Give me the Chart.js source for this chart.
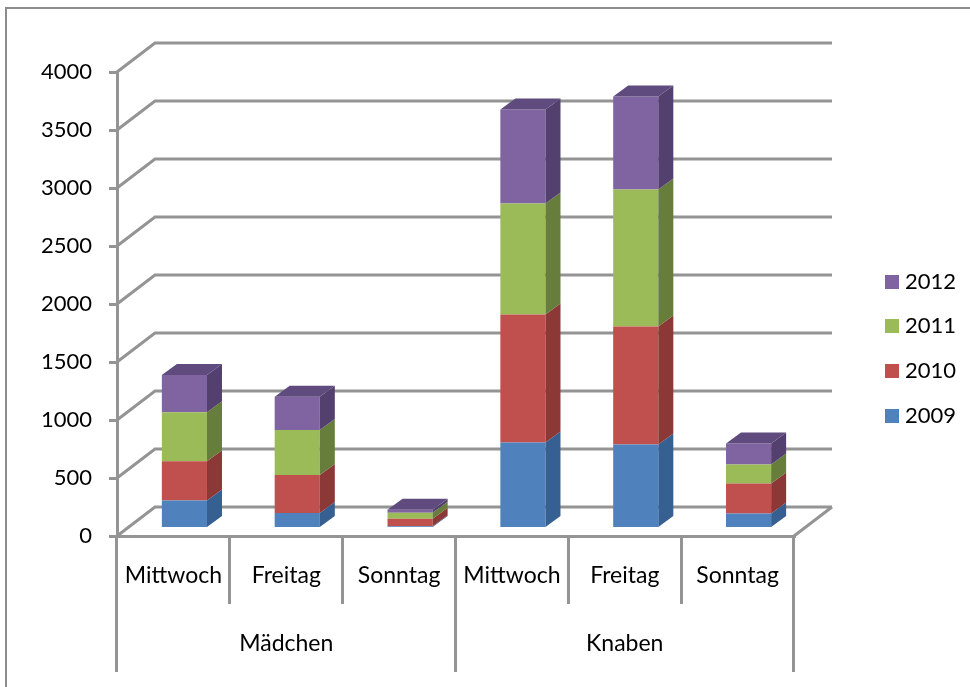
<!DOCTYPE html>
<html>
<head>
<meta charset="utf-8">
<title>Mädchen und Knaben</title>
<script src="https://cdn.jsdelivr.net/npm/chart.js@4"></script>
<style>
  html, body { margin: 0; background: #fff; }
  canvas { display: block; }
</style>
</head>
<body>
<canvas id="chart" width="970" height="687"></canvas>
<script>
const days = ["Mittwoch", "Freitag", "Sonntag", "Mittwoch", "Freitag", "Sonntag"];
const groups = ["Mädchen", "Knaben"];
const yearLabels = ["2009", "2010", "2011", "2012"];
const values2009 = [241, 133, 20, 741, 724, 129];
const values2010 = [339, 328, 64, 1103, 1017, 259];
const values2011 = [422, 388, 52, 957, 1181, 164];
const values2012 = [322, 287, 26, 810, 802, 181];
const yearValues = [values2009, values2010, values2011, values2012];
const frontColors = ["#4f81bd", "#c0504d", "#9bbb59", "#8064a2"];
const sideColors = ["#376092", "#8c3836", "#677d3b", "#54406f"];
const topColor = "#5f4b7d";

const lineGrey = "#949494";
const fontName = "Lato, Carlito, sans-serif";
const wordSize = 23;
const digitSize = 22;

// wall depth and bar depth of the fake 3D look
const wall = { dx: 38, dy: -29 };
const bar = { dx: 15, dy: -11, shiftX: 11, shiftY: -7.5 };

const framePlugin = {
  id: "frame",
  beforeDraw(chart) {
    const ctx = chart.ctx;
    ctx.save();
    ctx.strokeStyle = "#8c8c8c";
    ctx.lineWidth = 2;
    ctx.beginPath();
    ctx.moveTo(6, 687);
    ctx.lineTo(6, 8);
    ctx.lineTo(970, 8);
    ctx.stroke();
    ctx.restore();
  }
};

const wallPlugin = {
  id: "walls",
  beforeDatasetsDraw(chart) {
    const { ctx, chartArea, scales } = chart;
    ctx.save();
    ctx.strokeStyle = lineGrey;
    ctx.lineWidth = 3;
    scales.y.ticks.forEach(t => {
      const y = scales.y.getPixelForValue(t.value);
      ctx.beginPath();
      ctx.moveTo(chartArea.left, y);
      ctx.lineTo(chartArea.left + wall.dx, y + wall.dy);
      ctx.lineTo(chartArea.right + wall.dx, y + wall.dy);
      ctx.stroke();
    });
    // floor edge on the right
    ctx.beginPath();
    ctx.moveTo(chartArea.right, chartArea.bottom);
    ctx.lineTo(chartArea.right + wall.dx, chartArea.bottom + wall.dy);
    ctx.stroke();
    ctx.restore();

    // bars sit in the middle of the floor, not on its front edge
    ctx.save();
    ctx.translate(bar.shiftX, bar.shiftY);
  },
  afterDatasetsDraw(chart) {
    const ctx = chart.ctx;
    const metas = chart.data.datasets.map((d, i) => chart.getDatasetMeta(i));
    days.forEach((day, c) => {
      metas.forEach((meta, s) => {
        const el = meta.data[c];
        const right = el.x + el.width / 2;
        ctx.fillStyle = sideColors[s];
        ctx.beginPath();
        ctx.moveTo(right, el.y);
        ctx.lineTo(right + bar.dx, el.y + bar.dy);
        ctx.lineTo(right + bar.dx, el.base + bar.dy);
        ctx.lineTo(right, el.base);
        ctx.closePath();
        ctx.fill();
      });
      const t = metas[metas.length - 1].data[c];
      const left = t.x - t.width / 2;
      ctx.fillStyle = topColor;
      ctx.beginPath();
      ctx.moveTo(left, t.y);
      ctx.lineTo(left + bar.dx, t.y + bar.dy);
      ctx.lineTo(left + t.width + bar.dx, t.y + bar.dy);
      ctx.lineTo(left + t.width, t.y);
      ctx.closePath();
      ctx.fill();
    });
    ctx.restore();
  }
};

const groupPlugin = {
  id: "groups",
  afterDraw(chart) {
    const { ctx, chartArea, scales } = chart;
    const perGroup = days.length / groups.length;
    const step = scales.x.getPixelForValue(1) - scales.x.getPixelForValue(0);
    ctx.save();
    ctx.strokeStyle = lineGrey;
    ctx.lineWidth = 3;
    ctx.fillStyle = "#000";
    ctx.font = wordSize + "px " + fontName;
    ctx.textAlign = "center";
    ctx.textBaseline = "middle";
    groups.forEach((g, i) => {
      const x0 = chartArea.left + i * perGroup * step;
      ctx.fillText(g, x0 + perGroup * step / 2, 644);
      [x0, x0 + perGroup * step].forEach(x => {
        // line up with the axis ticks above
        const px = Math.round(x) - 0.5;
        ctx.beginPath();
        ctx.moveTo(px, 604);
        ctx.lineTo(px, 672);
        ctx.stroke();
      });
    });
    ctx.restore();
  }
};

const legendPlugin = {
  id: "sideLegend",
  afterDraw(chart) {
    const ctx = chart.ctx;
    const rowY = [416, 371, 326, 282];
    ctx.save();
    ctx.font = digitSize + "px " + fontName;
    ctx.textAlign = "left";
    ctx.textBaseline = "middle";
    chart.data.datasets.forEach((d, i) => {
      ctx.fillStyle = d.backgroundColor;
      ctx.fillRect(885, rowY[i] - 7, 14, 14);
      ctx.fillStyle = "#000";
      ctx.fillText(d.label, 905, rowY[i]);
    });
    ctx.restore();
  }
};

new Chart(document.getElementById("chart"), {
  type: "bar",
  data: {
    labels: days,
    datasets: yearLabels.map((year, i) => ({
      label: year,
      data: yearValues[i],
      backgroundColor: frontColors[i],
      categoryPercentage: 1,
      barPercentage: 0.4,
      clip: false
    }))
  },
  options: {
    responsive: false,
    animation: false,
    layout: { padding: { top: 72, right: 176, bottom: 0, left: 0 } },
    plugins: { legend: { display: false }, tooltip: { enabled: false } },
    scales: {
      x: {
        stacked: true,
        afterFit(scale) { scale.height = 151; },
        border: { color: lineGrey, width: 3 },
        grid: { color: lineGrey, lineWidth: 3, tickLength: 68, drawOnChartArea: false },
        ticks: {
          color: "#000",
          font: { family: fontName, size: wordSize },
          padding: -42,
          maxRotation: 0,
          autoSkip: false
        }
      },
      y: {
        stacked: true,
        min: 0,
        max: 4000,
        afterFit(scale) { scale.width = 117; },
        border: { color: lineGrey, width: 3 },
        grid: { color: lineGrey, lineWidth: 3, tickLength: 8, drawOnChartArea: false },
        ticks: {
          stepSize: 500,
          color: "#000",
          font: { family: fontName, size: digitSize },
          padding: 17,
          callback: v => String(v)
        }
      }
    }
  },
  plugins: [framePlugin, wallPlugin, groupPlugin, legendPlugin]
});
</script>
</body>
</html>
